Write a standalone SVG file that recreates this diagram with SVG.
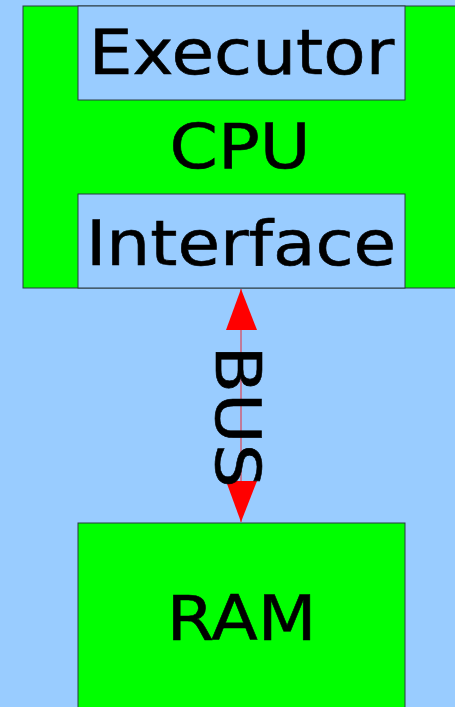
<svg xmlns="http://www.w3.org/2000/svg" width="455" height="707" viewBox="0 0 455 707">
<style>
.box{stroke:#2a3a40;stroke-width:1}
.g{fill:#00ff00}
.b{fill:#99ccff}
text{font-family:"DejaVu Sans",sans-serif;font-size:63px;fill:#000;stroke:#000;stroke-width:0.6;text-anchor:middle}
</style>
<rect width="455" height="707" fill="#99ccff"/>
<g id="cpu">
<rect class="box g" x="23" y="6" width="440" height="282"/>
<text transform="translate(240,168) scale(1.1,1)">CPU</text>
</g>
<g id="executor">
<rect class="box b" x="78" y="6" width="327" height="94"/>
<text transform="translate(241.5,74) scale(1.1,1)">Executor</text>
</g>
<g id="interface">
<rect class="box b" x="78" y="194" width="327" height="94"/>
<text transform="translate(241,265) scale(1.1,1)">Interface</text>
</g>
<g id="ram">
<rect class="box g" x="78" y="523" width="327" height="200"/>
<text transform="translate(241.5,640) scale(1.08,1)">RAM</text>
</g>
<g id="connectors">
<line x1="241" y1="289" x2="241" y2="522" stroke="#ff0000" stroke-width="0.8"/>
<path d="M241,289 L257,330 L226,330 Z" fill="#ff0000"/>
<path d="M241,522 L257,481 L226,481 Z" fill="#ff0000"/>
<text transform="translate(216,416.5) rotate(90) scale(1.1,1)">BUS</text>
</g>
</svg>
